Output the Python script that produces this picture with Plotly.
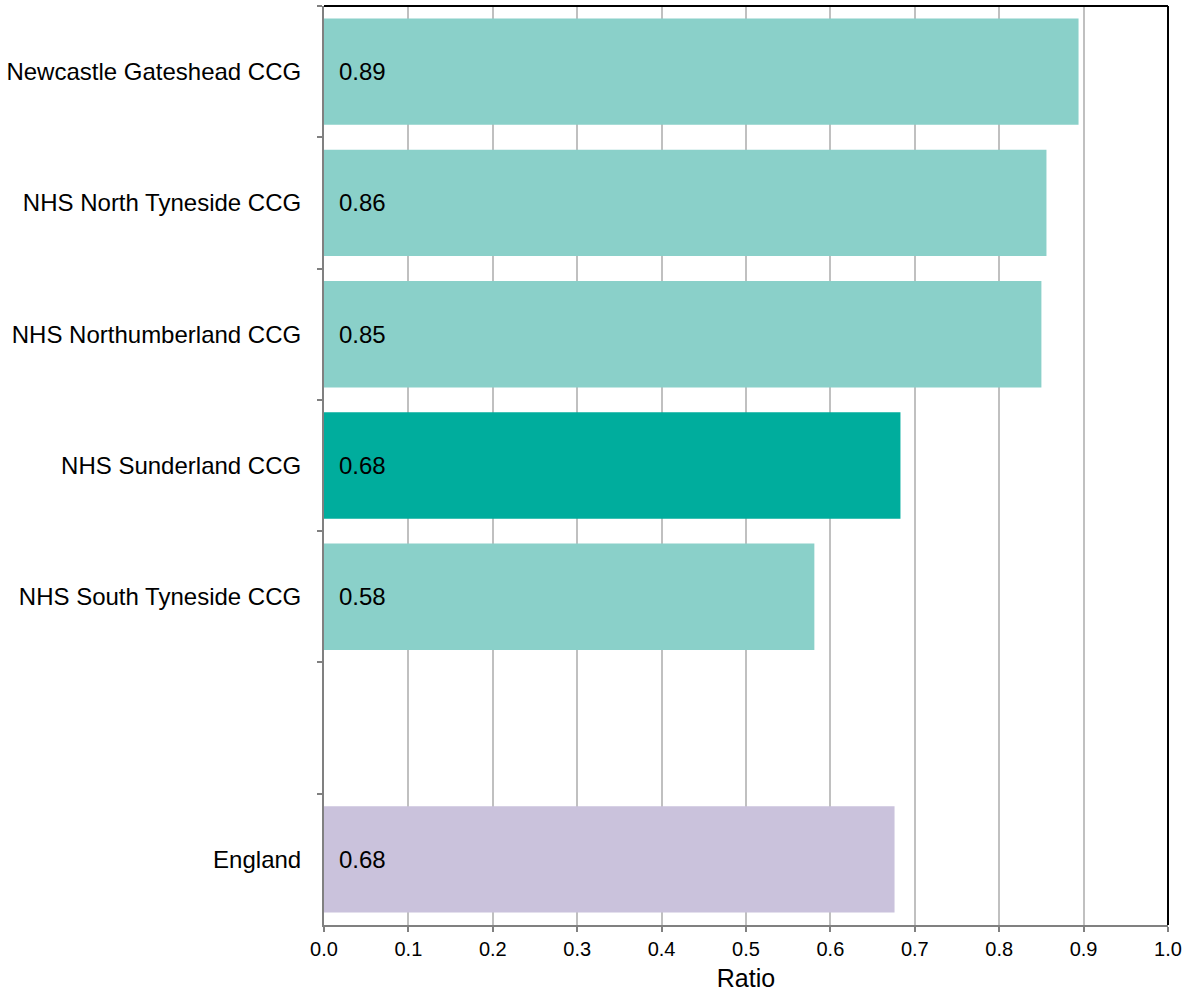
import plotly.graph_objects as go

categories = ["Newcastle Gateshead CCG", "NHS North Tyneside CCG", "NHS Northumberland CCG",
              "NHS Sunderland CCG", "NHS South Tyneside CCG", " ", "England"]
values = [0.894, 0.856, 0.850, 0.683, 0.581, None, 0.676]
colors = ["#8AD0C9", "#8AD0C9", "#8AD0C9", "#00AD9D", "#8AD0C9", "#8AD0C9", "#CAC2DC"]
x_ticks = [i / 10 for i in range(11)]
x_tick_labels = [f"{t:.1f}" for t in x_ticks]

FONT = "Liberation Sans, Arial, sans-serif"

fig = go.Figure()
fig.add_trace(go.Bar(
    y=categories, x=values, orientation="h",
    marker=dict(color=colors, line=dict(width=0)),
    hoverinfo="x+y", showlegend=False,
))

for c, v in zip(categories, values):
    if v is None:
        continue
    fig.add_annotation(x=0, y=c, xref="x", yref="y", text=f"{v:.2f}",
                       xanchor="left", yanchor="middle", xshift=13, showarrow=False,
                       font=dict(family=FONT, size=24, color="#000000"))

# top and right black borders
fig.add_shape(type="line", xref="x domain", yref="y domain", x0=0, x1=1, y0=1, y1=1,
              line=dict(color="#000000", width=2))
fig.add_shape(type="line", xref="x domain", yref="y domain", x0=1, x1=1, y0=0, y1=1,
              line=dict(color="#000000", width=2))

fig.update_layout(
    width=1188, height=998,
    margin=dict(l=322, r=17, t=6, b=73),
    plot_bgcolor="#FFFFFF", paper_bgcolor="#FFFFFF",
    bargap=0.19,
    font=dict(family=FONT, color="#000000"),
)
fig.update_xaxes(
    range=[0, 1], tickvals=x_ticks, ticktext=x_tick_labels,
    showgrid=True, gridcolor="#C0C0C0", gridwidth=1.5,
    zeroline=False, showline=True, linecolor="#808080", linewidth=2,
    ticks="outside", ticklen=5, tickcolor="#808080", tickwidth=1.5,
    tickfont=dict(family=FONT, size=20, color="#000000"),
    ticklabeloverflow="allow",
    title=dict(text="Ratio", font=dict(family=FONT, size=25, color="#000000"), standoff=10),
)
fig.update_yaxes(
    type="category", categoryorder="array", categoryarray=categories,
    autorange="reversed", tickson="boundaries",
    showgrid=False, zeroline=False, showline=True, linecolor="#808080", linewidth=2,
    ticks="outside", ticklen=5, tickcolor="#808080", tickwidth=1.5,
    tickfont=dict(family=FONT, size=24, color="#000000"),
    ticklabelstandoff=16,
)

fig.write_html(
    "out.html",
    config={"displayModeBar": False},
    post_script=(
        "document.body.style.margin='0';"
        "document.body.style.overflow='hidden';"
        "document.documentElement.style.overflow='hidden';"
    ),
)
